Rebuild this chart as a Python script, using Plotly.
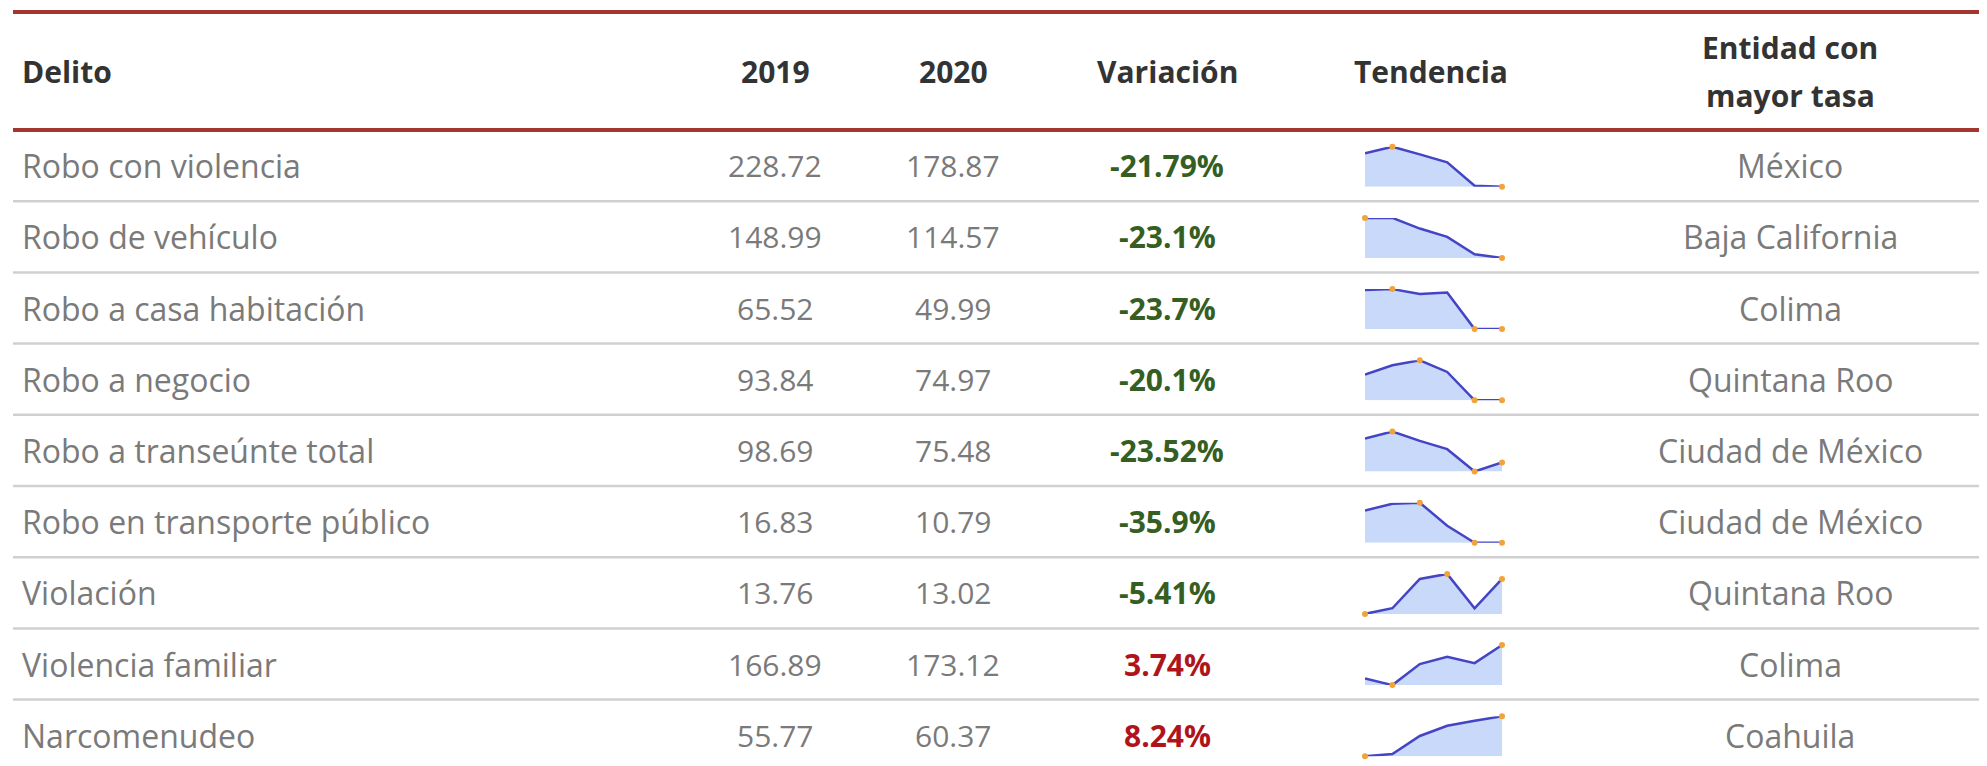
import plotly.graph_objects as go

# ---------------- data ----------------
delitos = ["Robo con violencia", "Robo de vehículo", "Robo a casa habitación",
           "Robo a negocio", "Robo a transeúnte total", "Robo en transporte público",
           "Violación", "Violencia familiar", "Narcomenudeo"]
tasa_2019 = [228.72, 148.99, 65.52, 93.84, 98.69, 16.83, 13.76, 166.89, 55.77]
tasa_2020 = [178.87, 114.57, 49.99, 74.97, 75.48, 10.79, 13.02, 173.12, 60.37]
variacion = [-21.79, -23.1, -23.7, -20.1, -23.52, -35.9, -5.41, 3.74, 8.24]
entidades = ["México", "Baja California", "Colima", "Quintana Roo", "Ciudad de México",
             "Ciudad de México", "Quintana Roo", "Colima", "Coahuila"]
anios = [2015, 2016, 2017, 2018, 2019, 2020]
# sparkline values (relative heights)
tend_robo_violencia = [100, 120, 97, 73, 3, 0]
tend_robo_vehiculo = [120, 120, 88, 63, 11, 0]
tend_robo_casa = [117, 120, 105, 110, 0, 0]
tend_robo_negocio = [77, 105, 120, 85, 0, 0]
tend_robo_transeunte = [99, 120, 92, 67, 0, 27]
tend_robo_transporte = [95, 115, 118, 50, 0, 0]
tend_violacion = [0, 17, 105, 120, 17, 105]
tend_violencia_fam = [20, 0, 63, 85, 66, 120]
tend_narcomenudeo = [0, 7, 60, 90, 105, 118]
tendencias = [tend_robo_violencia, tend_robo_vehiculo, tend_robo_casa, tend_robo_negocio,
              tend_robo_transeunte, tend_robo_transporte, tend_violacion,
              tend_violencia_fam, tend_narcomenudeo]
encabezados = ["Delito", "2019", "2020", "Variación", "Tendencia"]
encabezado_entidad = ["Entidad con", "mayor tasa"]

# ---------------- layout constants (page pixels) ----------------
PAGE_W, PAGE_H = 1987, 766
OFF = 8                      # default body margin of the page
W, H = PAGE_W - OFF, PAGE_H - OFF
FONT = "'Open Sans', 'Noto Sans', sans-serif"
FS = 30
FS_LABEL = 32
TOP_LINE = 12
HEAD_LINE = 130
ROW_H = 71.2
X_LEFT = 13
COL_DELITO = 20
COL_2019 = 775
COL_2020 = 953
COL_VAR = 1167
COL_TEND = 1431
COL_ENT = 1790
SPARK_X0, SPARK_X1 = 1365, 1502
SPARK_TOP, SPARK_BOT = 16.7, 56.7

HEAD_COLOR = "#333333"
TEXT_COLOR = "#7a7a7a"
GREEN = "#355e22"
RED = "#b0141b"
RULE_RED = "#a3362e"
RULE_GRAY = "#d0d0d0"
LINE_BLUE = "#4444c4"
FILL_BLUE = "rgba(170,196,248,0.65)"
MARK_ORANGE = "#f2a33a"


def px(x):
    return (x - OFF) / W


def py(y):
    return 1 - (y - OFF) / H


fig = go.Figure()
annotations = []
shapes = []


def add_text(x, y, text, color, weight="normal", anchor="center", size=FS):
    annotations.append(dict(
        x=px(x), y=py(y), xref="paper", yref="paper", text=text, showarrow=False,
        xanchor=anchor, yanchor="middle",
        font=dict(family=FONT, size=size, color=color, weight=weight)))


# header
head_y = (TOP_LINE + HEAD_LINE) / 2
add_text(COL_DELITO, head_y, encabezados[0], HEAD_COLOR, "bold", "left")
for cx, t in zip([COL_2019, COL_2020, COL_VAR, COL_TEND], encabezados[1:]):
    add_text(cx, head_y, t, HEAD_COLOR, "bold")
add_text(COL_ENT, 48, encabezado_entidad[0], HEAD_COLOR, "bold")
add_text(COL_ENT, 95, encabezado_entidad[1], HEAD_COLOR, "bold")

# rules
for yl in [TOP_LINE, HEAD_LINE]:
    shapes.append(dict(type="line", xref="paper", yref="paper", x0=px(X_LEFT), x1=1,
                       y0=py(yl), y1=py(yl), line=dict(color=RULE_RED, width=4)))

layout_axes = {}
for i, name in enumerate(delitos):
    top = HEAD_LINE + i * ROW_H
    cy = top + ROW_H / 2
    add_text(COL_DELITO, cy, name, TEXT_COLOR, 500, "left", FS_LABEL)
    add_text(COL_2019, cy, f"{tasa_2019[i]:.2f}", TEXT_COLOR)
    add_text(COL_2020, cy, f"{tasa_2020[i]:.2f}", TEXT_COLOR)
    v = variacion[i]
    add_text(COL_VAR, cy, f"{v:g}%", GREEN if v < 0 else RED, "bold")
    add_text(COL_ENT, cy, entidades[i], TEXT_COLOR, 500, "center", FS_LABEL)
    if i < len(delitos) - 1:
        yl = top + ROW_H
        shapes.append(dict(type="line", xref="paper", yref="paper", x0=px(X_LEFT), x1=1,
                           y0=py(yl), y1=py(yl), line=dict(color=RULE_GRAY, width=2.5)))

    # sparkline
    k = i + 1
    xa, ya = f"x{k}", f"y{k}"
    vals = tendencias[i]
    vmin, vmax = min(vals), max(vals)
    fig.add_trace(go.Scatter(x=anios, y=vals, xaxis=xa, yaxis=ya, mode="lines",
                             line=dict(color=LINE_BLUE, width=2.5),
                             fill="tozeroy", fillcolor=FILL_BLUE, hoverinfo="skip",
                             cliponaxis=False))
    idx = sorted({vals.index(vmin), vals.index(vmax), len(vals) - 1})
    fig.add_trace(go.Scatter(x=[anios[j] for j in idx], y=[vals[j] for j in idx],
                             xaxis=xa, yaxis=ya, mode="markers",
                             marker=dict(color=MARK_ORANGE, size=6),
                             hoverinfo="skip", cliponaxis=False))
    layout_axes[f"xaxis{k}"] = dict(domain=[px(SPARK_X0), px(SPARK_X1)], anchor=ya,
                                    range=[anios[0], anios[-1]], visible=False,
                                    fixedrange=True)
    layout_axes[f"yaxis{k}"] = dict(domain=[py(top + SPARK_BOT), py(top + SPARK_TOP)],
                                    anchor=xa, range=[vmin, vmax], visible=False,
                                    fixedrange=True)

fig.update_layout(width=W, height=H, margin=dict(l=0, r=0, t=0, b=0),
                  paper_bgcolor="white", plot_bgcolor="rgba(0,0,0,0)",
                  showlegend=False, annotations=annotations, shapes=shapes,
                  **layout_axes)
fig.write_html("out.html", config={"displayModeBar": False})
